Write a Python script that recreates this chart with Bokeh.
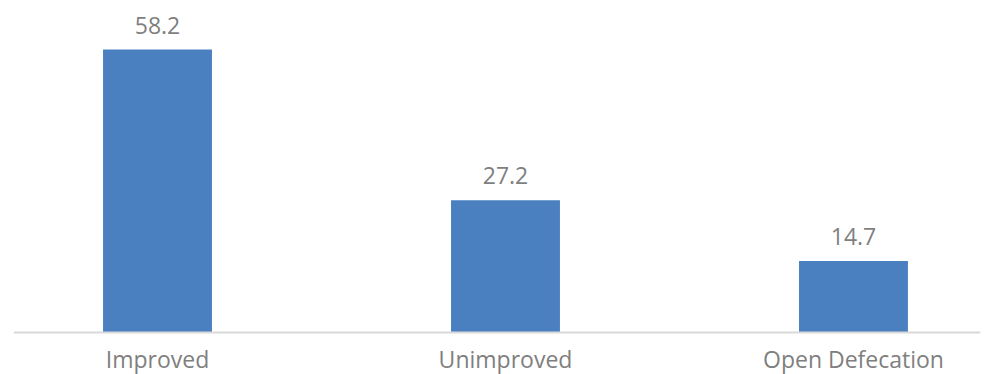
from bokeh.plotting import figure
from bokeh.models import ColumnDataSource, Range1d, LabelSet, Span
from bokeh.core.properties import value
from bokeh.embed import file_html
from bokeh.resources import INLINE

categories = ["Improved", "Unimproved", "Open Defecation"]
values = [58.2, 27.2, 14.7]

xs = [i + 0.5 for i in range(len(categories))]
labels = [f"{v:.1f}" for v in values]
src = ColumnDataSource(dict(x=xs, top=values, label=labels, cat=categories, zero=[0] * len(xs)))

p = figure(width=984, height=374, output_backend="svg", toolbar_location=None,
           x_range=Range1d(0.0862, 2.865), y_range=Range1d(-8.64, 68.28),
           min_border_left=13, min_border_right=4, min_border_top=0, min_border_bottom=0)
p.outline_line_color = None
p.xgrid.grid_line_color = None
p.ygrid.grid_line_color = None
p.xaxis.visible = False
p.yaxis.visible = False

p.vbar(x="x", top="top", bottom=0, width=0.313, source=src, color="#4a80c0", line_color=None)

p.add_layout(Span(location=0, dimension="width", line_color="#d9d9d9", line_width=2))

cat_lab = LabelSet(x="x", y="zero", text="cat", source=src, y_offset=-36,
                   text_align="center", text_baseline="alphabetic",
                   text_font=value("Open Sans"), text_font_size="23px", text_color="#7f7f7f")
p.add_layout(cat_lab)

lab = LabelSet(x="x", y="top", text="label", source=src, y_offset=16,
               text_align="center", text_baseline="alphabetic",
               text_font=value("Open Sans"), text_font_size="23px", text_color="#7f7f7f")
p.add_layout(lab)

open("out.html", "w").write(file_html(p, INLINE))
